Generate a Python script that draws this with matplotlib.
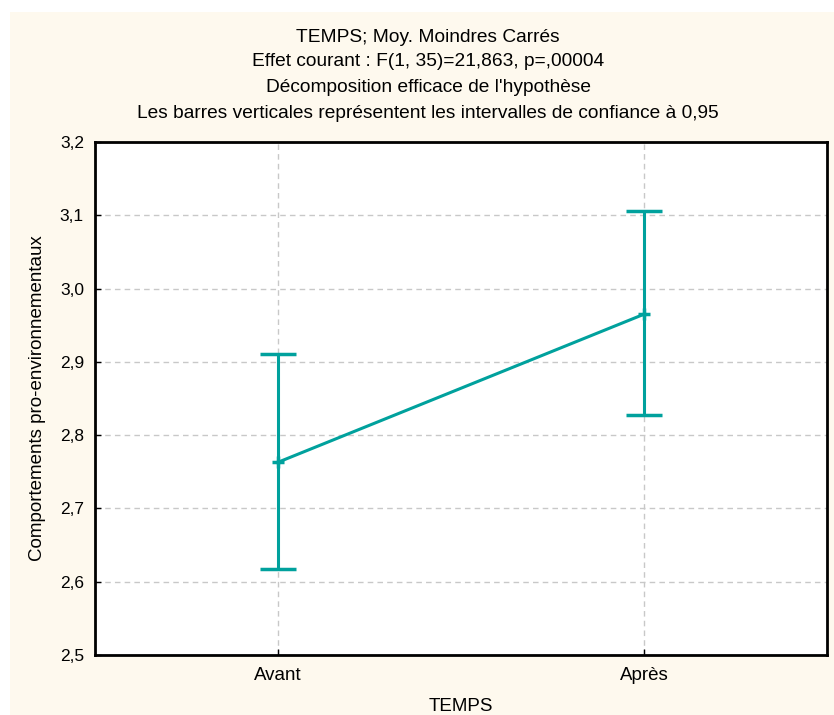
import matplotlib
matplotlib.use("Agg")
import matplotlib.pyplot as plt
from matplotlib.patches import Rectangle
from matplotlib.ticker import FuncFormatter

categories = ["Avant", "Après"]
means = [2.763, 2.965]
ci_low = [2.617, 2.828]
ci_high = [2.911, 3.106]
yticks = [2.5, 2.6, 2.7, 2.8, 2.9, 3.0, 3.1, 3.2]

title_lines = [
    "TEMPS; Moy. Moindres Carrés",
    "Effet courant : F(1, 35)=21,863, p=,00004",
    "Décomposition efficace de l'hypothèse",
    "Les barres verticales représentent les intervalles de confiance à 0,95",
]

plt.rcParams['font.family'] = ['Liberation Sans', 'DejaVu Sans']

W, H = 834, 715
fig = plt.figure(figsize=(W / 100, H / 100), dpi=100, facecolor="white")
fig.patches.append(Rectangle((10 / W, 0), 1 - 10 / W, 1 - 12 / H, transform=fig.transFigure,
                             facecolor="#FEF9EE", edgecolor="none", zorder=-10))

ax = fig.add_axes([95 / W, 1 - 655 / H, (827 - 95) / W, (655 - 142) / H])
ax.set_facecolor("white")

teal = "#00A19D"
x = list(range(len(categories)))
yerr = [[m - l for m, l in zip(means, ci_low)], [h - m for m, h in zip(means, ci_high)]]
ax.errorbar(x, means, yerr=yerr, color=teal, lw=2.2, elinewidth=2.2, capsize=13, capthick=2.2,
            marker="+", markersize=8, markeredgewidth=2.5, zorder=3)

ax.set_xlim(-0.5, 1.5)
ax.set_ylim(2.5, 3.2)
ax.set_xticks(x)
ax.set_xticklabels(categories, fontsize=13.5)
ax.set_yticks(yticks)
ax.yaxis.set_major_formatter(FuncFormatter(lambda v, p: f"{v:.1f}".replace(".", ",")))
ax.tick_params(direction="in", length=4, width=1, labelsize=12.5, pad=8, color="black")
ax.tick_params(axis="x", labelsize=13.5, pad=9)
ax.grid(True, color="#C8C8C8", linestyle=(0, (4, 3)), linewidth=1)
for s in ax.spines.values():
    s.set_linewidth(2)
    s.set_color("black")

ax.set_xlabel("TEMPS", fontsize=13.5, labelpad=10)
ax.set_ylabel("Comportements pro-environnementaux", fontsize=13.5, labelpad=10)

for i, (t, yy) in enumerate(zip(title_lines, [37, 62, 87, 113])):
    fig.text(428 / W, 1 - yy / H, t, ha="center", va="center", fontsize=13.8)

fig.savefig("out.png", dpi=100, facecolor=fig.get_facecolor())
